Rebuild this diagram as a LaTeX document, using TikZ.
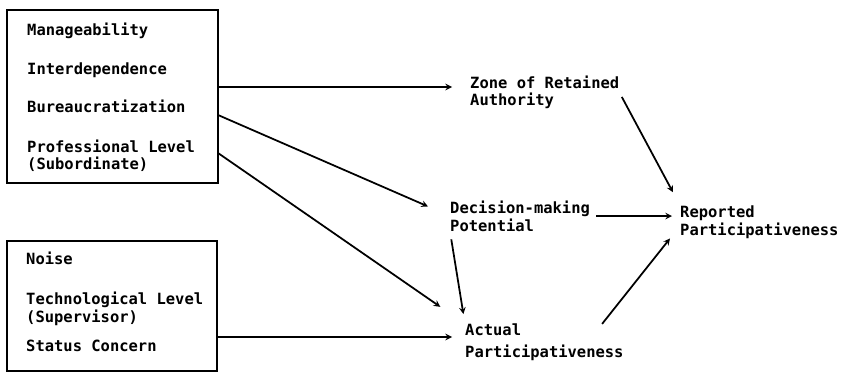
\documentclass[tikz,border=0pt]{standalone}
\usepackage{fontspec}
\setmonofont{DejaVu Sans Mono}
\tikzset{>=stealth}

\begin{document}
\begin{tikzpicture}[x=0.03cm, y=-0.03cm,
    var/.style={anchor=base west, align=left, inner sep=0pt,
        font=\ttfamily\bfseries\fontsize{13.2}{15}\selectfont},
    grp/.style={draw, line width=1.5pt, inner sep=0pt},
    arr/.style={->, line width=1.5pt}]
    \useasboundingbox (0,0) rectangle (846,373);
    \node[grp, minimum width=6.33cm, minimum height=5.19cm] (facA) at (112.5,96.5) {};
    \node[grp, minimum width=6.3cm, minimum height=3.9cm] (facB) at (112,306) {};
    \node[var] (mng) at (27,36) {Manageability};
    \node[var] (itd) at (27,75) {Interdependence};
    \node[var] (bur) at (27,113) {Bureaucratization};
    \node[var] (pro) at (27,170) {Professional Level\\(Subordinate)};
    \node[var] (noi) at (26,264) {Noise};
    \node[var] (tec) at (26,322) {Technological Level\\(Supervisor)};
    \node[var] (sta) at (26,351) {Status Concern};
    \node[var] (zone) at (470,106) {Zone of Retained\\Authority};
    \node[var] (dec) at (450,231) {Decision-making\\Potential};
    \node[var] (act) at (465,357) {Actual\\[3pt]Participativeness};
    \node[var] (rep) at (680,235) {Reported\\Participativeness};
    \coordinate (a1) at (218,87);
    \coordinate (a2) at (218,115);
    \coordinate (a3) at (218,153);
    \coordinate (a4) at (218,337);
    \draw[arr, shorten >=0.54cm] (a1) -- (a1 -| zone.west);
    \draw[arr, shorten >=0.72cm] (a2) -- (dec.west);
    \draw[arr, shorten >=0.9cm] (a3) -- (act.north west);
    \draw[arr, shorten >=0.39cm] (a4) -- (a4 -| act.west);
    \draw[arr, shorten <=0.18cm, shorten >=0.24cm] (dec.east) -- (dec.east -| rep.west);
    \draw[arr, shorten <=0.15cm, shorten >=0.45cm] (zone.east) -- (rep.north west);
    \draw[arr, shorten <=0.24cm, shorten >=0.3cm] (dec.south west) -- (act.north west);
    \draw[arr] ([xshift=-0.65cm]act.north east) -- ([xshift=-0.3cm]rep.south west);
\end{tikzpicture}
\end{document}
